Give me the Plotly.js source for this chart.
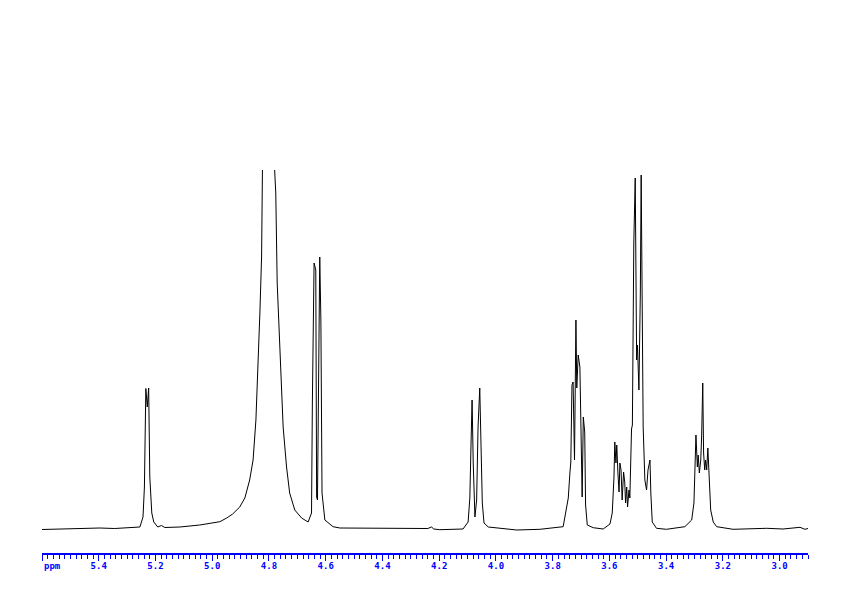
<!DOCTYPE html>
<html>
<head>
<meta charset="utf-8">
<script src="https://cdn.plot.ly/plotly-3.0.1.min.js"></script>
<style>html,body{margin:0;padding:0;background:#fff;}#chart{width:842px;height:596px;}</style>
</head>
<body>
<div id="chart"></div>
<script>
// Chemical shift (ppm) of each vertex of the spectrum trace
const shiftPpm = [
  5.600, 5.538, 5.485, 5.396, 5.344, 5.273, 5.255, 5.244, 5.239, 5.234,
  5.229, 5.224, 5.220, 5.213, 5.206, 5.192, 5.179, 5.167, 5.114, 5.044,
  4.973, 4.949, 4.928, 4.903, 4.885, 4.868, 4.856, 4.846, 4.838, 4.832,
  4.826, 4.823, 4.801, 4.779, 4.776, 4.771, 4.764, 4.759, 4.750, 4.738,
  4.727, 4.709, 4.685, 4.662, 4.650, 4.647, 4.641, 4.635, 4.632, 4.629,
  4.625, 4.621, 4.617, 4.613, 4.603, 4.574, 4.550, 4.434, 4.315, 4.240,
  4.227, 4.219, 4.198, 4.116, 4.098, 4.092, 4.088, 4.084, 4.080, 4.074,
  4.068, 4.063, 4.057, 4.053, 4.048, 4.042, 4.027, 3.927, 3.845, 3.763,
  3.753, 3.745, 3.739, 3.736, 3.732, 3.728, 3.723, 3.718, 3.715, 3.710,
  3.704, 3.700, 3.696, 3.692, 3.687, 3.684, 3.678, 3.657, 3.622, 3.598,
  3.590, 3.584, 3.581, 3.577, 3.574, 3.570, 3.566, 3.563, 3.559, 3.555,
  3.550, 3.546, 3.543, 3.539, 3.536, 3.531, 3.528, 3.522, 3.519, 3.514,
  3.509, 3.504, 3.501, 3.496, 3.491, 3.488, 3.484, 3.481, 3.475, 3.469,
  3.464, 3.457, 3.454, 3.449, 3.434, 3.399, 3.334, 3.310, 3.302, 3.298,
  3.295, 3.290, 3.287, 3.283, 3.278, 3.275, 3.271, 3.268, 3.264, 3.261,
  3.257, 3.253, 3.248, 3.243, 3.234, 3.222, 3.164, 3.046, 2.988, 2.928,
  2.911, 2.900
];
// Signal intensity (arbitrary units) at each vertex
const intensity = [
  -0.5, 0, 0.5, 1, 0.5, 1.3, 2, 12, 42, 140.5,
  122, 141, 52, 16, 7, 2, 3.5, 1.5, 2, 4,
  7.3, 11, 15, 22, 31, 49, 69, 109, 162, 216,
  272, 360, 480, 360, 336, 246, 196, 152, 102, 62,
  36, 19, 11, 7, 16, 126, 266, 259, 32, 29,
  209, 272, 209, 36, 9, 2.3, 1, 0.7, 0, 0.5,
  2, 0, -0.7, 0, 7, 31, 82, 129, 66, 12,
  29, 102, 141, 99, 26, 6, 2, -1, -0.3, 2.3,
  17, 31, 57, 67, 144, 147, 69, 209, 141, 174,
  162, 107, 32, 112, 97, 24, 4, 1.3, 0, 5,
  16, 51, 87, 66, 84, 56, 37, 66, 59, 29,
  57, 47, 26, 42, 22, 39, 31, 100, 104, 286,
  351, 169, 184, 139, 236, 354, 246, 102, 49, 39,
  59, 69, 36, 7, 0.7, -0.3, 2.3, 9, 26, 59,
  94, 62, 74, 56, 69, 92, 146, 76, 59, 69,
  59, 81, 52, 19, 7, 2.3, -0.3, 0.7, 0, 1.7,
  -0.3, 0.5
];
// Axis ticks
const tickValues = [5.6, 5.4, 5.2, 5.0, 4.8, 4.6, 4.4, 4.2, 4.0, 3.8, 3.6, 3.4, 3.2, 3.0];
const tickLabels = ['', '5.4', '5.2', '5.0', '4.8', '4.6', '4.4', '4.2', '4.0', '3.8', '3.6', '3.4', '3.2', '3.0'];
const unitLabel = 'ppm';

const blue = '#0000ff';
const labelFont = {family: 'DejaVu Sans Mono', size: 9, color: blue, weight: 'bold'};
const trace = {
  type: 'scatter', mode: 'lines',
  x: shiftPpm, y: intensity,
  line: {color: '#000000', width: 1, shape: 'linear'},
  hoverinfo: 'skip'
};
const layout = {
  width: 842, height: 596,
  margin: {l: 42, r: 34, t: 170, b: 43},
  paper_bgcolor: '#ffffff', plot_bgcolor: '#ffffff',
  showlegend: false,
  xaxis: {
    range: [5.6, 2.9],
    showgrid: false, zeroline: false,
    showline: true, linecolor: blue, linewidth: 1.5,
    ticks: 'outside', ticklen: 6, tickwidth: 1, tickcolor: blue,
    tickmode: 'array', tickvals: tickValues, ticktext: tickLabels,
    tickfont: labelFont, ticklabelstandoff: -2,
    minor: {tickmode: 'linear', tick0: 0, dtick: 0.02, ticks: 'outside', ticklen: 4, tickwidth: 1, tickcolor: blue, showgrid: false},
    fixedrange: true
  },
  yaxis: {range: [-24, 359], visible: false, showgrid: false, zeroline: false, fixedrange: true},
  annotations: [{
    text: unitLabel, xref: 'paper', yref: 'paper', x: 0, y: 0,
    xanchor: 'left', yanchor: 'top', yshift: -6, showarrow: false,
    font: labelFont
  }]
};
Plotly.newPlot('chart', [trace], layout, {staticPlot: true, displayModeBar: false});
</script>
</body>
</html>
